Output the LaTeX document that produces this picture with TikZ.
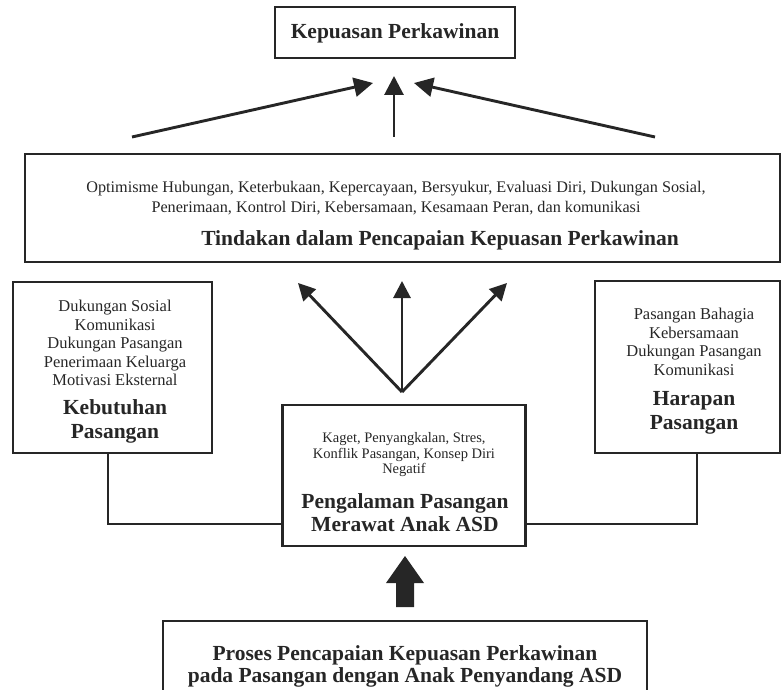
\documentclass[tikz,border=0pt]{standalone}
\usepackage{fontspec}
\setmainfont{Liberation Serif}
\usetikzlibrary{arrows.meta}

\begin{document}
\begin{tikzpicture}[x=1pt,y=-1pt,
    box/.style={draw=black!85, line width=2.9pt, inner sep=0pt},
    isi/.style={font=\fontsize{16.5}{18.6}\selectfont, align=center, text=black!85},
    judul/.style={font=\fontsize{21.5}{24}\selectfont\bfseries, align=center, text=black!85},
    panah/.style={draw=black!85, line width=2.9pt, -{Triangle[length=19pt,width=19pt]}},
    garis/.style={draw=black!85, line width=2.9pt}]
    \useasboundingbox (0,0) rectangle (782,690);
    \clip (0,0) rectangle (782,690);
    % top box
    \node[box, minimum width=240pt, minimum height=51pt] (kepuasan) at (395,32.5) {};
    \node[judul] (tkepuasan) at (395,33) {Kepuasan Perkawinan};
    % three arrows up to the top box
    \coordinate (kiri) at (132,137);
    \coordinate (tengah) at (394,137);
    \coordinate (kanan) at (655,137);
    \draw[panah] (kiri) -- (373,83);
    \draw[panah] (tengah) -- (394,76);
    \draw[panah] (kanan) -- (414,83);
    % big box with the actions
    \node[box, minimum width=755pt, minimum height=108pt] (tindakan) at (402.5,208) {};
    \node[isi, font=\fontsize{16.2}{20}\selectfont] (ttindakan) at (396,198) {Optimisme Hubungan, Keterbukaan, Kepercayaan, Bersyukur, Evaluasi Diri, Dukungan Sosial,\\Penerimaan, Kontrol Diri, Kebersamaan, Kesamaan Peran, dan komunikasi};
    \node[judul] (jtindakan) at (440,240) {Tindakan dalam Pencapaian Kepuasan Perkawinan};
    % left box
    \node[box, minimum width=199pt, minimum height=171pt] (kebutuhan) at (112.5,367.5) {};
    \node[isi] (tkebutuhan) at (115,343) {Dukungan Sosial\\Komunikasi\\Dukungan Pasangan\\Penerimaan Keluarga\\Motivasi Eksternal};
    \node[judul] (jkebutuhan) at (115,421) {Kebutuhan\\Pasangan};
    % right box
    \node[box, minimum width=185pt, minimum height=172pt] (harapan) at (687.5,367) {};
    \node[isi] (tharapan) at (694,342) {Pasangan Bahagia\\Kebersamaan\\Dukungan Pasangan\\Komunikasi};
    \node[judul] (jharapan) at (694,413) {Harapan\\Pasangan};
    % middle box
    \node[box, minimum width=243pt, minimum height=141pt] (pengalaman) at (404,475.5) {};
    \node[isi, font=\fontsize{14.5}{15.5}\selectfont] (tpengalaman) at (404,455) {Kaget, Penyangkalan, Stres,\\Konflik Pasangan, Konsep Diri\\Negatif};
    \node[judul, font=\fontsize{21.5}{23}\selectfont\bfseries] (jpengalaman) at (405,513) {Pengalaman Pasangan\\Merawat Anak ASD};
    % fan of arrows up to the big box
    \coordinate (pangkal) at (402,392);
    \foreach \ujung in {(298,283),(402,281),(507,283)}
        \draw[panah, -{Triangle[length=17pt,width=17pt]}] (pangkal) -- \ujung;
    % lines from the side boxes
    \draw[garis] ([xshift=-4.5pt]kebutuhan.south) |- ([yshift=-48.5pt]pengalaman.west);
    \draw[garis] ([xshift=9.5pt]harapan.south) |- ([yshift=-48.5pt]pengalaman.east);
    % thick arrow
    \fill[black!85] (396,607) -- (396,583) -- (386,583) -- (405,556) -- (424,583) -- (414,583) -- (414,607) -- cycle;
    % bottom box
    \node[box, minimum width=484pt, minimum height=90pt] (proses) at (405,666) {};
    \node[judul, font=\fontsize{21.5}{22}\selectfont\bfseries] (tproses) at (405,666) {Proses Pencapaian Kepuasan Perkawinan\\pada Pasangan dengan Anak Penyandang ASD};
\end{tikzpicture}
\end{document}
